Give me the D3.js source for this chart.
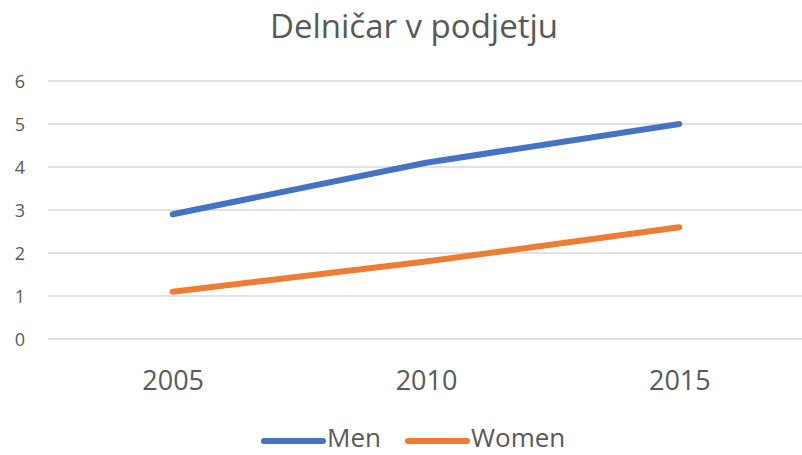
<!DOCTYPE html>
<html>
<head>
<meta charset="utf-8">
<script src="https://cdn.jsdelivr.net/npm/d3@7"></script>
<style>
  body { margin: 0; background: #fff; }
  text { font-family: "Open Sans", sans-serif; fill: #595959; }
</style>
</head>
<body>
<div id="chart"></div>
<script>
'use strict';

var years = ["2005", "2010", "2015"];
var men = [2.9, 4.1, 5.0];
var women = [1.1, 1.8, 2.6];
var yTicks = [0, 1, 2, 3, 4, 5, 6];
var seriesNames = ["Men", "Women"];
var seriesColors = ["#4472c4", "#ed7d31"];

var width = 802, height = 455;

var svg = d3.select("#chart").append("svg")
  .attr("width", width)
  .attr("height", height);

// scales
var x = d3.scalePoint().domain(years).range([46, 806]).padding(0.5);
var y = d3.scaleLinear().domain([0, 6]).range([339, 81]);

// title
svg.append("text")
  .attr("x", 414)
  .attr("y", 38)
  .attr("text-anchor", "middle")
  .style("font-size", "33px")
  .text("Delničar v podjetju");

// gridlines
svg.append("g").selectAll("line")
  .data(yTicks)
  .enter().append("line")
  .attr("x1", 48).attr("x2", 802)
  .attr("y1", function(d){ return y(d); })
  .attr("y2", function(d){ return y(d); })
  .attr("stroke", "#d9d9d9")
  .attr("stroke-width", 1.3);

// y labels
var yAxis = d3.axisLeft(y).tickValues(yTicks).tickFormat(d3.format("d")).tickSize(0).tickPadding(0);
var gy = svg.append("g").attr("transform", "translate(25,0)").call(yAxis);
gy.select(".domain").remove();
gy.selectAll("text").style("font-size", "18px").attr("fill", null).attr("dy", "0.35em");

// x labels
var xAxis = d3.axisBottom(x).tickSize(0).tickPadding(0);
var gx = svg.append("g").attr("transform", "translate(0,390)").call(xAxis);
gx.select(".domain").remove();
gx.selectAll("text").style("font-size", "27px").attr("fill", null).attr("dy", "0");

// lines
var line = d3.line()
  .x(function(d, i){ return x(years[i]); })
  .y(function(d){ return y(d); });

[men, women].forEach(function(vals, i){
  svg.append("path")
    .datum(vals)
    .attr("d", line)
    .attr("fill", "none")
    .attr("stroke", seriesColors[i])
    .attr("stroke-width", 6)
    .attr("stroke-linecap", "round")
    .attr("stroke-linejoin", "round");
});

// legend
var legendX = [264, 408];
var lg = svg.append("g").selectAll("g")
  .data(seriesNames)
  .enter().append("g")
  .attr("transform", function(d, i){ return "translate(" + legendX[i] + ",441)"; });

lg.append("line")
  .attr("x1", 0).attr("x2", 59)
  .attr("stroke", function(d, i){ return seriesColors[i]; })
  .attr("stroke-width", 6)
  .attr("stroke-linecap", "round");

lg.append("text")
  .attr("x", 63)
  .attr("y", 6)
  .style("font-size", "26px")
  .text(function(d){ return d; });
</script>
</body>
</html>
